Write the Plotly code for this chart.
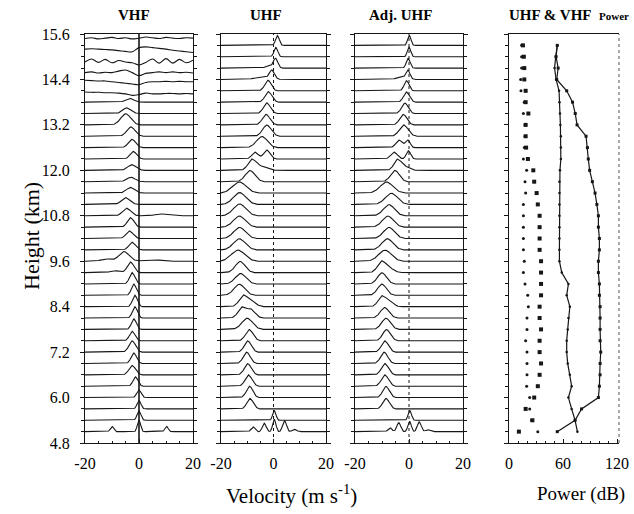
import numpy as np
import plotly.graph_objects as go

# ---------------- data ----------------
GATES = [5.1, 5.4, 5.7, 6.0, 6.3, 6.6, 6.9, 7.2, 7.5, 7.8, 8.1, 8.4, 8.7, 9.0, 9.3,
         9.6, 9.9, 10.2, 10.5, 10.8, 11.1, 11.4, 11.7, 12.0, 12.3, 12.6, 12.9, 13.2,
         13.5, 13.8, 14.1, 14.4, 14.7, 15.0, 15.3]

# spectral peaks per gate: (velocity m/s, height km, half width m/s)
VHF_PEAKS = [
    [(-10.0, 0.14, 0.6), (0.0, 0.30, 0.6), (10.2, 0.14, 0.6)],
    [(0.0, 0.25, 0.7)], [(0.0, 0.22, 0.7)], [(0.0, 0.20, 0.8)], [(-1.3, 0.25, 0.9)],
    [(-2.5, 0.25, 1.2)], [(-1.9, 0.28, 1.0)], [(-2.5, 0.30, 1.2)], [(-2.5, 0.25, 1.0)],
    [(-1.9, 0.28, 0.9)], [(-1.5, 0.30, 0.9)], [(-1.5, 0.30, 0.9)], [(-1.9, 0.30, 0.9)],
    [(-2.5, 0.30, 1.0)], [(-3.1, 0.28, 1.2), (-9.0, 0.05, 1.5)],
    [(-5.5, 0.26, 1.8), (-12.0, 0.06, 2.0), (5.0, 0.04, 3.0)],
    [(-2.5, 0.20, 1.2)], [(-3.5, 0.20, 1.3)], [(-3.1, 0.25, 1.2)],
    [(-4.5, 0.20, 1.5), (8.0, 0.05, 2.0)], [(-4.9, 0.18, 1.5)], [(-3.1, 0.15, 1.5)],
    [(-3.0, 0.12, 1.5)], [(-2.6, 0.15, 1.5)], [(-2.1, 0.20, 1.2)], [(-2.6, 0.22, 1.3)],
    [(-3.0, 0.25, 1.5)], [(-4.9, 0.30, 1.8)], [(-4.5, 0.15, 1.5)], [(-3.5, 0.10, 1.5)],
]

# VHF noise-only gates at the top: level offsets (km) at NOISE_V
NOISE_V = [-20, -17.5, -15, -12.5, -10, -7.5, -5, -2.5, 0, 2.5, 5, 7.5, 10, 12.5, 15, 17.5, 20]
NOISE_GATES = [14.1, 14.4, 14.7, 15.0, 15.3, 15.6]
NOISE_LEVELS = [
    [-0.03, -0.04, -0.04, -0.05, -0.05, -0.06, -0.08, -0.12, -0.10, -0.06, -0.08, -0.08, -0.07, -0.07, -0.08, -0.07, -0.08],
    [-0.02, -0.03, -0.04, -0.04, -0.06, -0.08, -0.10, -0.12, -0.14, -0.08, -0.06, -0.06, -0.05, -0.06, -0.05, -0.06, -0.06],
    [-0.12, -0.10, -0.13, -0.11, -0.12, -0.08, -0.05, -0.12, -0.20, -0.14, -0.12, -0.10, -0.12, -0.10, -0.12, -0.11, -0.13],
    [-0.14, -0.06, -0.15, -0.07, -0.16, -0.10, -0.14, -0.16, -0.22, -0.15, -0.06, -0.17, -0.05, -0.17, -0.07, -0.16, -0.09],
    [-0.10, -0.09, -0.10, -0.11, -0.12, -0.14, -0.16, -0.17, -0.06, -0.04, -0.06, -0.08, -0.10, -0.13, -0.15, -0.17, -0.19],
    [-0.12, -0.10, -0.13, -0.11, -0.09, -0.12, -0.10, -0.13, -0.11, -0.08, -0.10, -0.12, -0.09, -0.11, -0.12, -0.10, -0.11],
]

UHF_PEAKS = [
    [(-7.8, 0.13, 0.7), (-3.5, 0.22, 0.7), (0.3, 0.33, 0.6), (4.2, 0.30, 0.7), (8.0, 0.06, 0.8)],
    [(0.3, 0.26, 0.6)],
    [(-8.9, 0.28, 1.2)], [(-9.1, 0.30, 1.2)], [(-9.5, 0.30, 1.3)], [(-9.8, 0.30, 1.3)],
    [(-10.2, 0.30, 1.3)], [(-9.8, 0.30, 1.3)], [(-9.2, 0.30, 1.4)], [(-10.0, 0.30, 2.0)],
    [(-12.0, 0.28, 1.5), (-8.5, 0.22, 1.5)], [(-11.4, 0.30, 1.6), (-8.0, 0.12, 1.5)],
    [(-13.0, 0.30, 2.0)], [(-12.5, 0.28, 2.0)], [(-12.7, 0.30, 1.8)], [(-13.5, 0.30, 2.5)],
    [(-13.0, 0.30, 2.2)], [(-12.9, 0.30, 2.2)], [(-13.0, 0.30, 2.2)], [(-12.9, 0.32, 2.3)],
    [(-12.9, 0.32, 2.3)], [(-13.0, 0.30, 2.5)], [(-8.9, 0.30, 1.8)],
    [(-8.2, 0.28, 1.5), (-4.5, 0.10, 2.0)], [(-7.0, 0.18, 1.2), (-2.5, 0.24, 1.2)],
    [(-4.4, 0.30, 2.0)], [(-2.5, 0.30, 1.6)], [(-2.8, 0.28, 1.4)], [(-2.5, 0.28, 1.3)],
    [(-1.9, 0.28, 1.3)], [(-2.1, 0.28, 1.2)], [(-0.6, 0.22, 0.9), (-4.0, 0.06, 3.0)],
    [(0.8, 0.25, 0.8), (-1.5, 0.05, 1.5)], [(0.9, 0.25, 0.7)], [(1.5, 0.26, 0.7)],
]

ADJ_PEAKS = [
    [(-7.0, 0.10, 0.7), (-3.8, 0.24, 0.7), (0.2, 0.28, 0.6), (3.8, 0.26, 0.7), (7.0, 0.05, 0.8)],
    [(0.3, 0.26, 0.6)],
    [(-8.5, 0.28, 1.2)], [(-8.5, 0.30, 1.2)], [(-8.9, 0.30, 1.3)], [(-8.9, 0.30, 1.3)],
    [(-9.2, 0.30, 1.3)], [(-8.9, 0.30, 1.3)], [(-8.3, 0.30, 1.4)], [(-8.5, 0.30, 1.6)],
    [(-9.0, 0.28, 1.6)], [(-10.0, 0.28, 1.4), (-7.0, 0.14, 1.3)],
    [(-10.0, 0.30, 1.6)], [(-10.0, 0.30, 1.6)], [(-10.1, 0.30, 1.5), (-7.0, 0.10, 1.5)],
    [(-8.9, 0.30, 2.3)], [(-8.0, 0.30, 2.0)], [(-7.4, 0.30, 2.0)], [(-7.8, 0.30, 2.0)],
    [(-7.4, 0.30, 2.0)], [(-6.5, 0.30, 2.2)], [(-8.3, 0.30, 2.3)], [(-5.2, 0.30, 1.6)],
    [(-4.3, 0.28, 1.3), (-1.5, 0.10, 1.5)], [(-5.5, 0.18, 1.2), (-0.2, 0.22, 0.8)],
    [(-3.6, 0.20, 1.2), (-0.4, 0.20, 0.8)], [(-1.9, 0.30, 1.6)], [(-2.1, 0.28, 1.3)],
    [(-1.5, 0.28, 1.2)], [(-0.9, 0.27, 1.1)], [(-0.9, 0.27, 0.9)],
    [(-0.4, 0.22, 0.7), (-2.5, 0.06, 2.0)], [(-0.3, 0.26, 0.7)], [(0.0, 0.26, 0.6)],
    [(0.1, 0.27, 0.6)],
]

# line profile of one spectral peak (units of half width, relative height)
PROFILE_U = [-3.0, -2.5, -2.0, -1.5, -1.0, -0.5, 0.0, 0.5, 1.0, 1.5, 2.0, 2.5, 3.0]
PROFILE_H = [0.0, 0.04, 0.14, 0.33, 0.61, 0.88, 1.0, 0.88, 0.61, 0.33, 0.14, 0.04, 0.0]

# power profiles (dB) per gate
POWER_DOTS = [32, 25, 23, 23, 19.6, 20, 20, 20, 18.5, 20, 20, 21.5, 20.8, 17.8, 16, 17, 16, 16,
              16, 16, 16, 18.5, 17.8, 19.6, 16, 17, 17.8, 17.8, 16, 17, 13.3, 13, 14, 14, 14]
POWER_SQUARES = [11, 26, 18.5, 28, 32, 34, 35.6, 34, 34, 35.6, 34, 34, 35.6, 35.6, 35.6, 35.6,
                 34, 34, 34, 34, 32, 30.7, 28, 27, 21, 19, 18.5, 18.5, 21.5, 18.5, 18.5, 17, 17,
                 16.5, 15.5]
POWER_LINE_A = [76, 73.4, 69.6, 66, 69.6, 67.6, 65.2, 64.1, 64.1, 65.2, 66, 67.6, 64.1, 66, 58.6,
                56, 56, 56, 56, 56, 56, 56, 56, 56.6, 57.6, 57.6, 57.6, 57.1, 56.6, 56.1, 55.6,
                52.3, 50.6, 51.9, 53.6]
POWER_LINE_B = [53.6, 73.4, 80.6, 99.3, 100.4, 101.2, 101.2, 101.9, 101.2, 101.2, 101.2, 101.2,
                100.4, 100.4, 99.3, 99.3, 100.4, 100.4, 99.3, 99.3, 97.6, 95.6, 92.6, 89.6, 88.1,
                87.1, 85.6, 75.6, 73.6, 70.6, 64.1, 53, 54.6, 52.3, 53.6]

VEL_TICKS = [-20, 0, 20]
POW_TICKS = [0, 60, 120]
HEIGHT_TICKS = [4.8, 6.0, 7.2, 8.4, 9.6, 10.8, 12.0, 13.2, 14.4, 15.6]

# ---------------- figure ----------------
W, H = 634, 514
INK = "#161616"
FONT = "Liberation Serif"

def fx(px):
    return px / W

def fy(py):
    return (H - py) / H

YDOM = [fy(443), fy(34)]
XDOMS = [[fx(85), fx(193)], [fx(221), fx(326)], [fx(355), fx(463)], [fx(509), fx(619)]]

vgrid = np.linspace(-20, 20, 321)

def spectrum(peaks):
    s = np.zeros_like(vgrid)
    for v, a, w in peaks:
        s += a * np.interp((vgrid - v) / w, PROFILE_U, PROFILE_H)
    return s

fig = go.Figure()

def add_panel(peaks_list, ax):
    for g, pk in zip(GATES, peaks_list):
        fig.add_trace(go.Scatter(x=vgrid, y=g + spectrum(pk), mode="lines",
                                 line=dict(color=INK, width=1.1),
                                 xaxis="x" + ax, yaxis="y" + ax,
                                 showlegend=False, hoverinfo="skip"))

add_panel(VHF_PEAKS, "")
for g, lev in zip(NOISE_GATES, NOISE_LEVELS):
    fig.add_trace(go.Scatter(x=NOISE_V, y=[g + l for l in lev], mode="lines",
                             line=dict(color=INK, width=1.1, shape="spline", smoothing=1.0),
                             xaxis="x", yaxis="y", showlegend=False, hoverinfo="skip"))
add_panel(UHF_PEAKS, "2")
add_panel(ADJ_PEAKS, "3")

# power panel
fig.add_trace(go.Scatter(x=POWER_DOTS, y=GATES, mode="markers",
                         marker=dict(symbol="circle", size=3, color=INK),
                         xaxis="x4", yaxis="y4", showlegend=False))
fig.add_trace(go.Scatter(x=POWER_SQUARES, y=GATES, mode="markers",
                         marker=dict(symbol="square", size=4, color=INK),
                         xaxis="x4", yaxis="y4", showlegend=False))
fig.add_trace(go.Scatter(x=POWER_LINE_A, y=GATES, mode="lines+markers",
                         line=dict(color=INK, width=1.2), marker=dict(size=2.5, color=INK),
                         xaxis="x4", yaxis="y4", showlegend=False))
fig.add_trace(go.Scatter(x=POWER_LINE_B, y=GATES, mode="lines+markers",
                         line=dict(color=INK, width=1.2),
                         marker=dict(symbol="square", size=3, color=INK),
                         xaxis="x4", yaxis="y4", showlegend=False))

tickfont = dict(family=FONT, size=16, color="#000")

for i in range(4):
    sfx = "" if i == 0 else str(i + 1)
    if i < 3:
        xa = dict(range=[-20, 20], tickvals=VEL_TICKS, ticktext=[str(t) for t in VEL_TICKS],
                  minor=dict(dtick=5, tick0=0, ticks="inside", ticklen=2, tickcolor=INK))
    else:
        xa = dict(range=[0, 122.2], tickvals=POW_TICKS, ticktext=[str(t) for t in POW_TICKS],
                  minor=dict(dtick=10, tick0=0, ticks="inside", ticklen=2, tickcolor=INK))
    xa.update(domain=XDOMS[i], anchor="y" + sfx, showline=True, linecolor=INK, linewidth=1,
              mirror=True, ticks="inside", ticklen=4, tickcolor=INK, tickfont=tickfont,
              ticklabelstandoff=6, automargin=False,
              showgrid=False, zeroline=False, fixedrange=True)
    ya = dict(domain=YDOM, range=[4.8, 15.6], anchor="x" + sfx, showline=True,
              linecolor=INK, linewidth=1, mirror=("ticks" if i < 3 else False),
              ticks="outside", ticklen=4, tickcolor=INK, tickvals=HEIGHT_TICKS,
              ticktext=["%.1f" % t for t in HEIGHT_TICKS], showticklabels=(i == 0),
              tickfont=tickfont, ticklabelstandoff=7, automargin=False,
              minor=dict(tick0=4.8, dtick=0.3, ticks="outside", ticklen=3, tickcolor=INK),
              showgrid=False, zeroline=False, fixedrange=True)
    fig.layout["xaxis" + sfx] = xa
    fig.layout["yaxis" + sfx] = ya

# zero-velocity reference lines
fig.add_shape(type="line", xref="x", yref="y domain", x0=0, x1=0, y0=0, y1=1,
              line=dict(color=INK, width=1.6))
for ax in ["x2", "x3"]:
    fig.add_shape(type="line", xref=ax, yref="y domain", x0=0, x1=0, y0=0, y1=1,
                  line=dict(color=INK, width=1, dash="dot"))
# faint right edge of power panel
fig.add_shape(type="line", xref="x4 domain", yref="y4 domain", x0=1, x1=1, y0=0, y1=1,
              line=dict(color="#555", width=1, dash="dot"))

titlefont = dict(family=FONT, size=15, color="#000")
for txt, xc in [("<b>VHF</b>", 134), ("<b>UHF</b>", 266), ("<b>Adj. UHF</b>", 400)]:
    fig.add_annotation(text=txt, xref="paper", yref="paper", x=fx(xc), y=fy(15),
                       showarrow=False, font=titlefont, xanchor="center", yanchor="middle")
fig.add_annotation(text="<b>UHF &amp; VHF</b>", xref="paper", yref="paper", x=fx(594),
                   y=fy(15), showarrow=False, font=titlefont, xanchor="right", yanchor="middle")
fig.add_annotation(text="<b>Power</b>", xref="paper", yref="paper", x=fx(597), y=fy(16),
                   showarrow=False, font=dict(family=FONT, size=11, color="#000"),
                   xanchor="left", yanchor="middle")

fig.add_annotation(text="Height (km)", xref="paper", yref="paper", x=fx(31), y=fy(236),
                   textangle=-90, showarrow=False,
                   font=dict(family=FONT, size=22, color="#000"),
                   xanchor="center", yanchor="middle")
fig.add_annotation(text="Velocity (m s<sup>-1</sup>)", xref="paper", yref="paper",
                   x=fx(291), y=fy(494), showarrow=False,
                   font=dict(family=FONT, size=21, color="#000"),
                   xanchor="center", yanchor="middle")
fig.add_annotation(text="Power (dB)", xref="paper", yref="paper", x=fx(581), y=fy(494),
                   showarrow=False, font=dict(family=FONT, size=19, color="#000"),
                   xanchor="center", yanchor="middle")

fig.update_layout(width=W, height=H, margin=dict(l=0, r=0, t=0, b=0, autoexpand=False),
                  paper_bgcolor="white", plot_bgcolor="white", showlegend=False)

fig.write_html("out.html", config={"displayModeBar": False},
               post_script="document.body.style.margin='0';document.body.style.overflow='hidden';")
